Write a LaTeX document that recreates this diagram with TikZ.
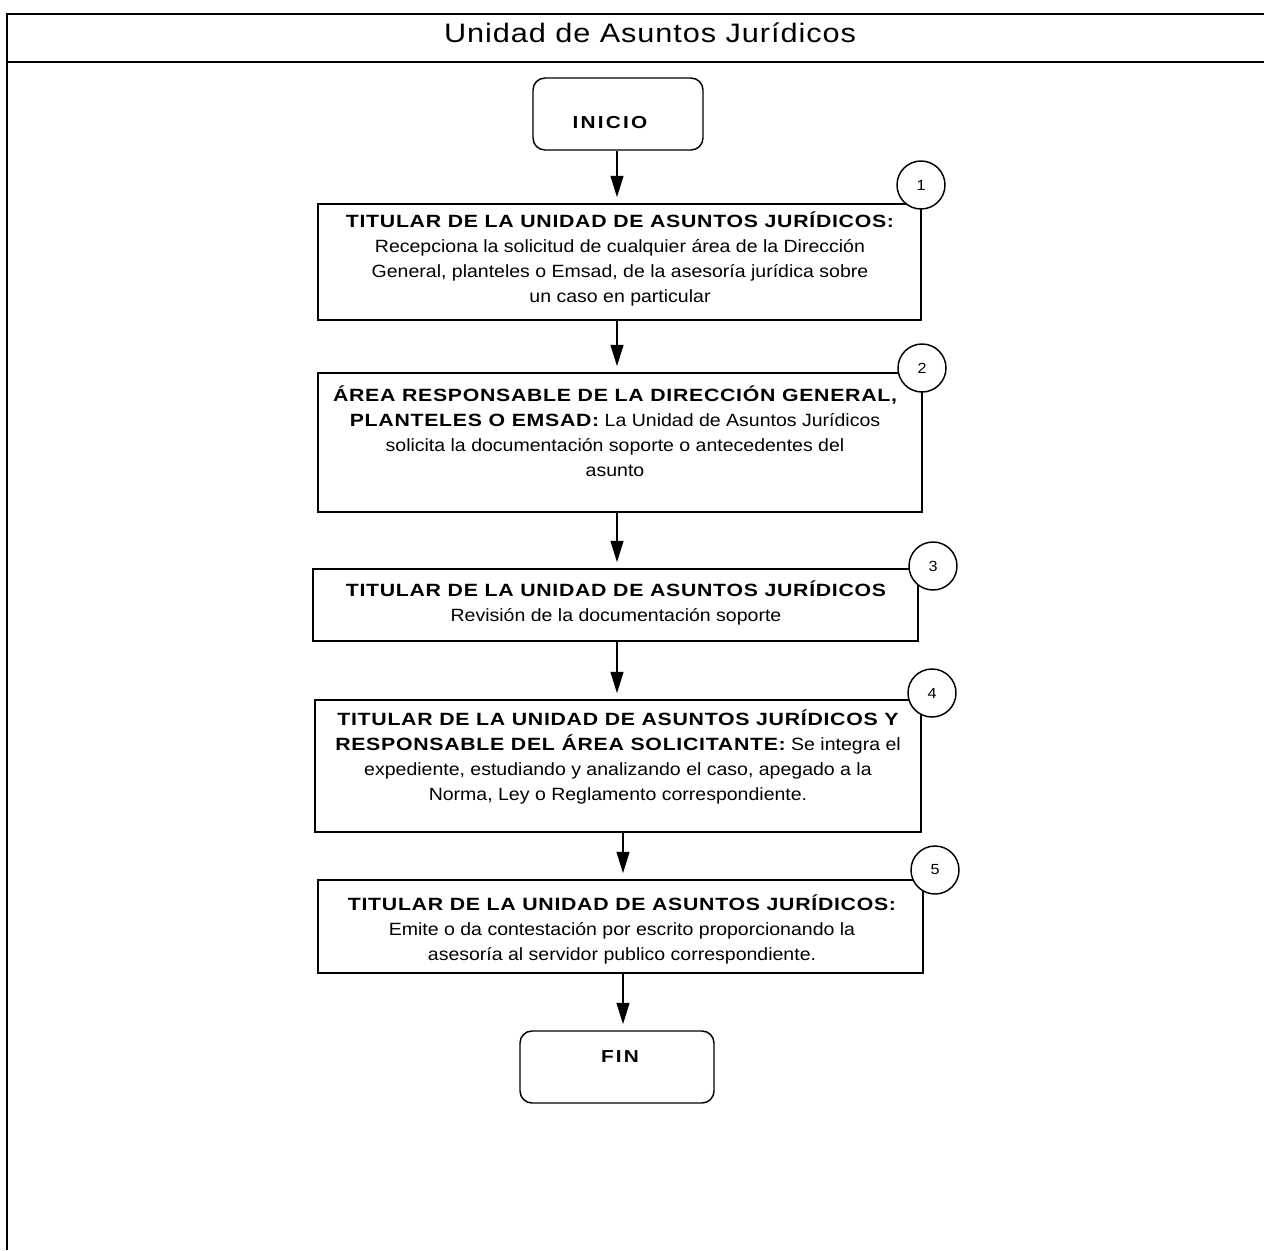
\documentclass[tikz,border=0pt]{standalone}
\usepackage{fontspec}
\setmainfont{Liberation Sans}[FakeStretch=1.1]
\newfontfamily\headfont{Liberation Sans}[FakeStretch=1.2,LetterSpace=4]
\newfontfamily\titlefont{Liberation Sans}[FakeStretch=1.15,LetterSpace=3.5]
\newfontfamily\termfont{Liberation Sans}[FakeStretch=1.2,LetterSpace=13]
\usetikzlibrary{arrows.meta,fit,calc}
\newcommand{\hd}[1]{{\headfont\bfseries #1}}
\begin{document}
\begin{tikzpicture}[x=0.75pt,y=-0.75pt,
  stepbox/.style={draw, line width=1.1pt, inner sep=0pt},
  term/.style={draw, line width=1.1pt, rounded corners=9pt, inner sep=0pt},
  termtxt/.style={inner sep=0pt, font=\termfont\bfseries\fontsize{13}{15}\selectfont},
  num/.style={draw, fill=white, circle, line width=1.1pt, minimum size=36pt, inner sep=0pt, font=\fontsize{11}{13}\selectfont},
  txt/.style={align=center, inner sep=0pt, font=\fontsize{13.3}{18.75}\selectfont},
  flow/.style={line width=1.6pt, -{Triangle[length=16pt,width=9.5pt]}, shorten >=4.5pt},
  frame/.style={line width=1pt}]
\useasboundingbox (0,0) rectangle (1264,1250);

% page frame and header
\draw[frame] (1264,14) -- (7,14) -- (7,1250);
\draw[frame] (7,62) -- (1264,62);
\node[inner sep=0pt, font=\titlefont\fontsize{20}{24}\selectfont] (title) at (650,33) {Unidad de Asuntos Jurídicos};

% terminals
\node[term, fit={(533,78) (703,150)}] (inicio) {};
\node[termtxt] (tinicio) at (610,123) {INICIO};
\node[term, fit={(520,1031) (714,1103)}] (fin) {};
\node[termtxt] (tfin) at (620,1057) {FIN};

% process steps
\node[stepbox, fit={(318,204) (921,320)}] (b1) {};
\node[txt] (t1) at (620,258.5) {\hd{TITULAR DE LA UNIDAD DE ASUNTOS JURÍDICOS:}\\
Recepciona la solicitud de cualquier área de la Dirección\\
General, planteles o Emsad, de la asesoría jurídica sobre\\
un caso en particular};

\node[stepbox, fit={(318,373) (922,512)}] (b2) {};
\node[txt] (t2) at (615,431) {\hd{ÁREA RESPONSABLE DE LA DIRECCIÓN GENERAL,}\\
\hd{PLANTELES O EMSAD:} La Unidad de Asuntos Jurídicos\\
solicita la documentación soporte o antecedentes del\\
asunto};

\node[stepbox, fit={(313,569) (918,641)}] (b3) {};
\node[txt] (t3) at (616,602.5) {\hd{TITULAR DE LA UNIDAD DE ASUNTOS JURÍDICOS}\\
Revisión de la documentación soporte};

\node[stepbox, fit={(315,700) (921,832)}] (b4) {};
\node[txt] (t4) at (618,757) {\hd{TITULAR DE LA UNIDAD DE ASUNTOS JURÍDICOS Y}\\
\hd{RESPONSABLE DEL ÁREA SOLICITANTE:} Se integra el\\
expediente, estudiando y analizando el caso, apegado a la\\
Norma, Ley o Reglamento correspondiente.};

\node[stepbox, fit={(318,880) (923,973)}] (b5) {};
\node[txt] (t5) at (622,929) {\hd{TITULAR DE LA UNIDAD DE ASUNTOS JURÍDICOS:}\\
Emite o da contestación por escrito proporcionando la\\
asesoría al servidor publico correspondiente.};

% step numbers
\node[num] (n1) at (921,185) {1};
\node[num] (n2) at (922,368) {2};
\node[num] (n3) at (933,566) {3};
\node[num] (n4) at (932,693) {4};
\node[num] (n5) at (935,870) {5};

% flow connectors
\coordinate (xa) at (617,0);
\coordinate (xb) at (623,0);
\draw[flow] (inicio.south -| xa) -- (b1.north -| xa);
\draw[flow] (b1.south -| xa) -- (b2.north -| xa);
\draw[flow] (b2.south -| xa) -- (b3.north -| xa);
\draw[flow] (b3.south -| xa) -- (b4.north -| xa);
\draw[flow] (b4.south -| xb) -- (b5.north -| xb);
\draw[flow] (b5.south -| xb) -- (fin.north -| xb);
\end{tikzpicture}
\end{document}
